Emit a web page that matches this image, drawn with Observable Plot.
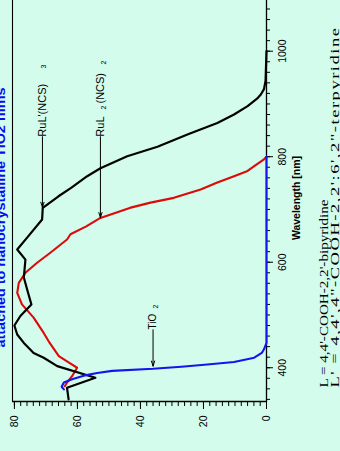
<!DOCTYPE html>
<html><head><meta charset="utf-8">
<script src="https://cdn.jsdelivr.net/npm/d3@7"></script>
<script src="https://cdn.jsdelivr.net/npm/@observablehq/plot@0.6"></script>
<style>
html,body{margin:0;padding:0;background:#d3fcec;overflow:hidden;width:340px;height:451px;}
#rot{position:absolute;left:0;top:0;width:451px;height:340px;transform-origin:0 0;transform:translate(0px,451px) rotate(-90deg);}
</style></head><body><div id="rot"></div>
<script>
// RuL'(NCS)3 (black dye)
const blackWavelength = [340,362,381,403,419,428,447,463,480,498,520,545,571,605,624,650,681,703,725,741,763,778,801,819,842,864,880,896,910,918,928,944,1000];
const blackAbsorbance = [62.8,63.3,54.3,66.4,70.7,73.9,77.0,79.1,80.0,78.1,74.6,75.8,77.0,76.5,79.1,75.5,71.2,71.0,66.0,62.0,56.9,52.7,44.2,34.6,25.1,15.6,10.3,6.0,3.0,1.8,0.8,0.3,0];
// RuL2(NCS)2
const redWavelength = [365,372,384,400,410,422,447,466,495,520,542,561,580,599,618,643,653,668,684,703,713,722,738,751,763,773,782,795,800];
const redAbsorbance = [64.0,63.3,61.7,60.1,62.8,65.9,68.8,70.7,73.9,77.6,79.1,78.6,76.5,72.8,68.6,63.3,62.2,57.2,52.7,43.4,36.8,29.4,20.9,15.6,10.3,6.0,3.9,0.8,0];
// TiO2
const blueWavelength = [359,364,372,378,385,390,394,398,402,406,411,419,428,435,447,800];
const blueAbsorbance = [64.3,65.0,64.3,61.7,58.0,53.7,49.0,36.0,27.0,18.8,10.3,3.9,1.5,0.8,0,0];

const wavelengthTicks = [400, 600, 800, 1000];
const absorbanceTicks = [0, 20, 40, 60, 80];
const wavelengthMinor = d3.range(340, 1100, 20);
const absorbanceMinor = d3.range(0, 81, 2);

const titleText = "attached to nanocrystalline TiO2 films";
const xLabel = "Wavelength [nm]";
const footnotes = ["L = 4,4'-COOH-2,2'-bipyridine", "L' = 4,4',4\"-COOH-2,2':6',2\"-terpyridine"];

// annotations in data space
const arrows = [
  {x1: 838, x2: 704, y: 71.1},
  {x1: 838, x2: 684.5, y: 52.7},
  {x1: 472, x2: 403, y: 36.0}
];
const labelsMain = [
  {x: 838, y: 71.1, t: "RuL'(NCS)", fs: 11},
  {x: 838, y: 52.7, t: "RuL", fs: 11},
  {x: 900.8, y: 52.7, t: "(NCS)", fs: 11},
  {x: 472.5, y: 36.0, t: "TiO", fs: 10}
];
const labelsSub = [
  {x: 971, y: 70.8, t: "3"},
  {x: 893, y: 51.5, t: "2"},
  {x: 978.5, y: 51.5, t: "2"},
  {x: 516, y: 35.2, t: "2"}
];

const toRows = (ws, as) => ws.map((w, i) => ({w, a: as[i]}));
const black = toRows(blackWavelength, blackAbsorbance);
const red = toRows(redWavelength, redAbsorbance);
const blue = toRows(blueWavelength, blueAbsorbance);

const xDomain = [336, 1098];
const yDomain = [0, 80.6];
const serif = "'Liberation Serif', 'Times New Roman', serif";

const svg = Plot.plot({
  width: 451, height: 340,
  marginLeft: 49, marginRight: 0, marginTop: 12, marginBottom: 74,
  x: {domain: xDomain, label: null},
  y: {domain: yDomain, label: null},
  style: {fontFamily: "'Liberation Sans', Arial, sans-serif", fontSize: "10.5px", background: "transparent", color: "#000"},
  marks: [
    Plot.axisX(wavelengthMinor, {tickSize: 4, tickFormat: () => "", label: null, strokeWidth: 1}),
    Plot.axisX(wavelengthTicks, {tickSize: 7, tickPadding: 5, fontSize: 10.5, tickFormat: d => String(d), label: null, strokeWidth: 1}),
    Plot.axisY(absorbanceMinor, {tickSize: 4, tickFormat: () => "", label: null, strokeWidth: 1}),
    Plot.axisY(absorbanceTicks, {tickSize: 7, tickPadding: 7, fontSize: 10.5, tickFormat: d => String(d), label: null, strokeWidth: 1}),
    Plot.ruleY([yDomain[0]], {stroke: "#000", strokeWidth: 1.3}),
    Plot.ruleY([yDomain[1]], {stroke: "#000", strokeWidth: 1.1}),
    Plot.ruleX([xDomain[0]], {stroke: "#000", strokeWidth: 1.3}),
    Plot.line(red, {x: "w", y: "a", stroke: "#dd0a0a", strokeWidth: 2.1, strokeLinejoin: "round"}),
    Plot.line(black, {x: "w", y: "a", stroke: "#000", strokeWidth: 2.2, strokeLinejoin: "round"}),
    Plot.line(blue, {x: "w", y: "a", stroke: "#1414f0", strokeWidth: 2.1, strokeLinejoin: "round"}),
    Plot.arrow(arrows, {x1: "x1", x2: "x2", y1: "y", y2: "y", stroke: "#000", strokeWidth: 1, headLength: 8, headAngle: 35}),
    Plot.text(labelsMain, {x: "x", y: "y", text: "t", fontSize: "fs", textAnchor: "start", lineAnchor: "middle", fill: "#000"}),
    Plot.text(labelsSub, {x: "x", y: "y", text: "t", fontSize: 7, textAnchor: "middle", lineAnchor: "middle", fill: "#000"}),
    Plot.text([xLabel], {frameAnchor: "bottom", dx: 2.5, dy: 30, lineAnchor: "middle", fontWeight: "bold", fontSize: 10.5}),
    Plot.text([titleText], {frameAnchor: "top-left", dx: 54, dy: -7.5, textAnchor: "start", lineAnchor: "bottom", fontWeight: "bold", fontSize: 13, fill: "#0a0af5"}),
    Plot.text([footnotes[0]], {frameAnchor: "bottom-left", dx: 14, dy: 61.5, textAnchor: "start", lineAnchor: "bottom", fontSize: 12, fontFamily: serif}),
    Plot.text([footnotes[1]], {frameAnchor: "bottom-left", dx: 14, dy: 72, textAnchor: "start", lineAnchor: "bottom", fontSize: 12.5, fontFamily: serif})
  ]
});

const lengths = {};
lengths[titleText] = [260, "spacingAndGlyphs", 0];
lengths[footnotes[0]] = [188, "spacingAndGlyphs", 0];
lengths[footnotes[1]] = [361, "spacingAndGlyphs", 1];
d3.select(svg).selectAll("text").each(function () {
  const t = this.textContent;
  if (lengths[t]) {
    this.setAttribute("textLength", lengths[t][0]);
    this.setAttribute("lengthAdjust", lengths[t][1]);
    if (lengths[t][2]) this.style.letterSpacing = lengths[t][2] + "px";
  }
});
document.getElementById("rot").appendChild(svg);
</script>
</body></html>
